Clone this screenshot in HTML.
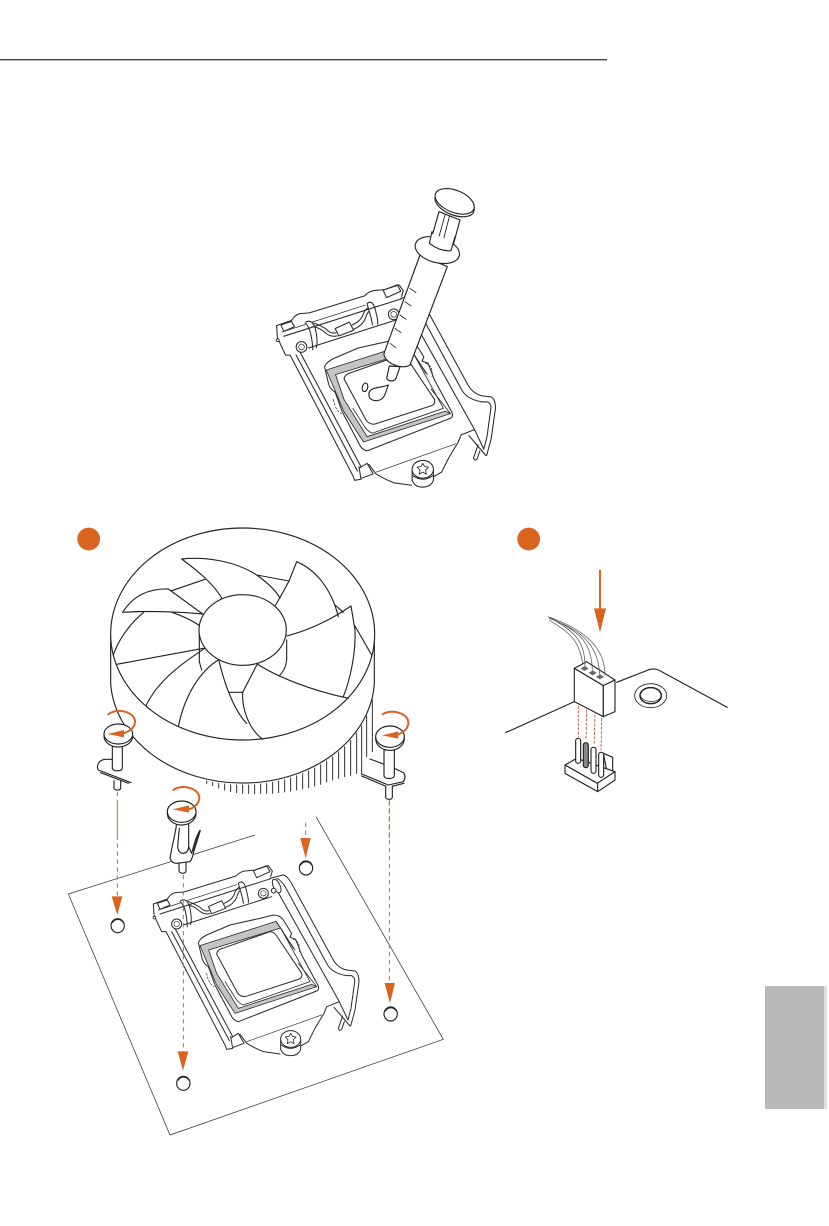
<!DOCTYPE html>
<html><head><meta charset="utf-8"><title>Diagram</title>
<style>html,body{margin:0;padding:0;background:#fff;width:829px;height:1226px;overflow:hidden}svg{display:block}</style>
</head><body>
<svg width="829" height="1226" viewBox="0 0 829 1226" xmlns="http://www.w3.org/2000/svg">
<defs>
<g id="socket" fill="none" stroke="#2a2a2a" stroke-width="3" stroke-linejoin="round" stroke-linecap="round">
 <path fill="#fff" stroke="none" d="M280,312 L322,297 L345,278 L372,276 L528,228 L555,213 L625,197 L637,213 L632,230 L670,225 L700,260 L820,480 L860,510 L885,513 L897,545 L885,630 L872,680 L845,690 L835,685 L838,620 L800,620 L765,685 L722,745 L690,768 L660,762 L610,755 L552,730 L520,742 L518,745 L500,748 L495,735 L318,395 L305,395 L282,345 Z"/>
 <!-- top bar -->
 <path d="M280,312 L322,297 Q330,283 345,278 L372,276 L528,228 Q540,215 555,213 L585,210 L625,197 L637,213 L632,230"/>
 <path d="M280,312 L282,345 L305,395 L318,395"/>
 <circle cx="283" cy="353" r="4" fill="#fff" stroke-width="2.4"/>
 <path d="M300,342 L632,236 M292,310 L322,300 L330,315 L300,328 Z M580,212 L620,197 L630,215 L590,233 Z M370,375 L635,290"/>
 <path stroke-width="2" d="M380,302 L530,254 M295,330 L360,309"/>
 <!-- rails -->
 <path d="M318,395 L495,735 L500,748 L518,745 L512,710 M335,395 L508,722 M345,385 L518,710"/>
 <path d="M515,712 L535,700 L552,730 L520,742"/>
 <path d="M630,235 L668,225 Q682,225 700,260 L820,480 Q835,505 860,510 L885,513 Q897,520 897,545 L885,630 L872,678"/>
 <path d="M650,235 Q665,240 680,268 L800,490 Q815,520 860,527 L875,527 Q885,532 884,545 L873,625 L864,660"/>
 <path d="M642,255 L838,605 L800,620 L792,640 L765,685 L745,725 L722,738"/>
 <path d="M822,622 L870,678 M838,605 L864,660 M835,685 L848,648 M835,685 Q838,695 845,688 L853,665"/>
 <ellipse cx="650" cy="258" rx="10" ry="22" fill="#fff" transform="rotate(-25 650 258)"/>
 <circle cx="641" cy="272" r="7" fill="#fff"/>
 <!-- hood -->
 <path d="M540,703 L560,730 Q585,745 610,755 L660,762"/>
 <path stroke-width="2" d="M560,725 L785,645"/>
 <!-- screws -->
 <circle cx="350" cy="372" r="15" fill="#fff"/><circle cx="350" cy="372" r="8" stroke-width="2"/>
 <circle cx="610" cy="280" r="15" fill="#fff"/><circle cx="610" cy="280" r="8" stroke-width="2"/>
 <!-- bail loops -->
 <path d="M362,302 C372,296 385,300 390,325 C394,345 396,360 392,374 M360,305 C372,312 380,340 382,380"/>
 <path d="M535,250 C545,240 555,248 560,275 C564,290 566,300 565,308 M535,250 C540,270 548,290 550,310"/>
 <path d="M385,305 Q405,312 420,322 Q432,336 447,332 M388,316 Q405,320 417,332 Q432,345 450,341"/>
 <path fill="#fff" d="M445,320 L485,302 L497,325 L455,341 Z"/>
 <path d="M493,310 Q515,300 522,285 Q527,268 537,262 M497,322 Q522,312 530,292 Q534,278 540,272"/>
 <!-- window -->
 <path fill="#fff" d="M415,428 Q420,415 440,405 L510,375 L600,355 L640,345 Q660,345 670,360 L695,400 L690,412 L707,418 L725,465 L775,558 Q778,570 770,573 L535,665 Q522,662 515,650 L465,555 L445,500 Q428,490 425,470 Z"/>
 <path fill="#c4c4c4" stroke-width="2.4" d="M420,437 L648,364 L662,384 L446,450 L470,520 L535,625 L755,553 L770,560 L525,640 L470,555 Z"/>
 <path stroke-width="2.4" d="M648,364 L705,450 M662,384 L700,445 M715,490 L770,560"/>
 <path stroke-width="2.4" d="M662,384 L750,545 L550,615 Q540,612 530,600 L495,545"/>
 <path fill="#fff" d="M470,462 Q472,450 485,446 L630,395 Q640,395 648,405 L725,520 Q728,532 718,537 L555,590 Q540,590 532,578 Z"/>
 <path stroke-width="2" d="M700,418 Q722,425 718,455 M440,520 Q445,550 462,560" stroke-dasharray="6,5"/>
 <!-- main screw -->
 <path fill="#fff" d="M662,720 V748 Q670,768 692,767 Q715,767 722,748 V720 Z"/>
 <ellipse cx="692" cy="717" rx="30" ry="25" fill="#fff"/>
 <path d="M664,735 Q692,755 720,735"/>
 <path stroke-width="2.4" d="M692,700 L697,709 L708,711 L700,719 L702,731 L692,725 L682,731 L684,719 L676,711 L687,709 Z"/>
</g>
</defs>

<rect x="0" y="59" width="607" height="1.4" fill="#444"/>
<rect x="765" y="986" width="59" height="123" fill="#b9b9b9"/>
<rect x="824" y="986" width="3" height="123" fill="#ddd"/>

<circle cx="88.7" cy="539" r="11.4" fill="#d9631f"/>
<circle cx="528.7" cy="539" r="11.4" fill="#d9631f"/>

<!-- Top socket + syringe -->
<use href="#socket" transform="translate(177.33,215) scale(.3547)"/>
<g transform="translate(260,180) scale(.33333)" fill="none" stroke="#222" stroke-width="3.4" stroke-linejoin="round" stroke-linecap="round">
 <path fill="#fff" d="M388,558 L380,595 C386,605 402,606 408,595 L420,560 Z"/>
 <path fill="#fff" d="M480,225 L372,520 C370,545 420,572 450,555 L562,260 Z"/>
 <path d="M450,325 L468,338 M435,365 L453,378 M420,405 L438,418 M405,445 L423,458 M390,490 L408,503" stroke-width="2.6"/>
 <path fill="#fff" d="M537,95 L510,190 L575,212 L600,120 Z"/>
 <path d="M555,105 L530,195 M568,110 L545,200" stroke-width="2.6"/>
 <ellipse cx="532" cy="210" rx="68" ry="38" fill="#fff" transform="rotate(15 532 210)"/>
 <path fill="#fff" stroke="none" d="M512,160 L580,185 L572,212 L505,190 Z"/>
 <path d="M516,155 L508,190 Q540,215 573,212 L585,170"/>
 <ellipse cx="584" cy="72" rx="62" ry="33" fill="#fff" transform="rotate(22 584 72)"/>
 <ellipse cx="584" cy="64" rx="62" ry="33" fill="#fff" transform="rotate(22 584 64)"/>
 <ellipse cx="315" cy="622" rx="8" ry="13" fill="#fff" transform="rotate(15 315 622)"/>
 <path fill="#fff" d="M327,640 C330,620 360,625 385,615 C375,640 375,660 350,662 C335,662 325,655 327,640 Z"/>
</g>

<!-- PCB outline -->
<g transform="translate(60,800) scale(.33333)" fill="none" stroke="#333" stroke-width="2.2">
 <path d="M585,105 L25,282 L330,1005 L1150,718 L768,50"/>
</g>

<!-- Bottom socket -->
<use href="#socket" transform="translate(60,800) scale(.33333)"/>

<!-- Fan -->
<g transform="translate(60,520) scale(.33333)" fill="none" stroke="#222" stroke-width="3.4" stroke-linejoin="round" stroke-linecap="round">
 <path stroke-width="2.8" d="M440,783V791M458,787V797M476,790V804M494,792V810M512,794V815M530,795V818M548,795V820M566,795V820M584,794V821M602,792V820M620,790V820M638,787V820M656,783V818M674,779V816M692,773V813M710,767V810M728,761V807M746,753V803M764,744V798M782,734V793M800,723V786M818,710V780M836,696V775M854,680V770M872,661V766M890,639V760M905,617V760M920,588V710M937,540V695"/>
 <path fill="#fff" d="M152,340 V490 A396,315 0 0 0 943,490 V320 Z"/>
 <ellipse cx="548" cy="342" rx="396" ry="318" fill="#fff"/>
 <path d="M365,117 C430,110 520,120 590,165 C625,190 650,215 660,235 M365,117 C410,150 460,190 487,237 M590,165 L687,183"/>
 <path d="M710,125 L687,183 Q665,225 645,258 M710,125 C770,150 815,210 835,290 M825,255 L850,277"/>
 <path d="M873,258 C820,295 750,330 680,348 M873,258 L885,330 C888,400 870,480 850,530 M885,318 L935,405"/>
 <path d="M592,432 C650,470 750,510 865,535 M592,432 L548,517 C545,570 570,630 607,657 M680,360 V420 C678,440 670,455 660,465"/>
 <path d="M477,422 C490,480 520,570 560,610 M508,517 L548,517"/>
 <path d="M475,420 C425,450 375,520 355,620 M435,385 C350,440 290,490 258,557 M430,385 L170,433"/>
 <path d="M188,277 C220,225 270,205 325,207 L428,282 M188,277 C260,272 360,275 428,282 M250,278 C210,310 175,360 160,405 M335,212 L435,178 M330,275 C360,285 395,300 420,318 M418,335 V425 L425,450"/>
 <ellipse cx="548" cy="330" rx="131" ry="106" fill="#fff"/>
 <!-- left pin -->
 <path d="M157,718 H135 C115,720 108,740 115,750 L213,788 M122,758 L205,790"/>
 <path fill="#fff" d="M162,782 V805 C165,812 180,812 182,805 V782"/>
 <path fill="#fff" d="M157,670 V745 C160,755 185,755 187,745 V670 Z"/>
 <ellipse cx="175" cy="648" rx="43" ry="33" fill="#fff"/>
 <ellipse cx="175" cy="642" rx="43" ry="30" fill="#fff"/>
 <!-- right pin -->
 <path d="M930,717 L970,732 M1003,745 L1030,758 Q1040,770 1030,785 L985,795 L905,762 M1032,790 L985,802 L905,768"/>
 <path fill="#fff" d="M977,798 V832 C980,840 995,840 997,832 V798"/>
 <path fill="#fff" d="M972,690 V768 C975,778 1000,778 1003,768 V690 Z"/>
 <ellipse cx="990" cy="656" rx="43" ry="35" fill="#fff"/>
 <ellipse cx="990" cy="650" rx="43" ry="32" fill="#fff"/>
</g>

<!-- Middle pin (z3) -->
<g transform="translate(60,800) scale(.33333)" fill="none" stroke="#222" stroke-width="3.4" stroke-linejoin="round" stroke-linecap="round">
 <path fill="#fff" d="M357,188 V213 C360,222 376,222 378,213 V188"/>
 <path fill="#fff" d="M350,70 C345,110 335,140 330,175 Q335,190 350,190 L390,185 Q398,175 402,150 L417,95 L406,120 L395,160 L386,140 L386,70 Z"/>
 <path d="M358,85 L353,140 Q355,160 370,160 Q385,158 386,140"/>
 <path d="M402,150 L420,92" stroke-width="5"/>
 <ellipse cx="365" cy="41" rx="43" ry="34" fill="#fff"/>
 <ellipse cx="365" cy="35" rx="43" ry="32" fill="#fff"/>
 <!-- holes -->
 <g fill="#fff">
 <ellipse cx="173" cy="377" rx="20" ry="21"/><path d="M157,368 C165,355 182,355 190,368"/>
 <ellipse cx="738" cy="204" rx="20" ry="21"/><path d="M722,195 C730,182 747,182 755,195"/>
 <ellipse cx="992" cy="642" rx="20" ry="21"/><path d="M976,633 C984,620 1001,620 1009,633"/>
 <ellipse cx="370" cy="850" rx="20" ry="21"/><path d="M354,841 C362,828 379,828 387,841"/>
 </g>
</g>

<!-- Orange dashes and arrows -->
<g transform="translate(60,800) scale(.33333)" fill="none" stroke="#d9631f" stroke-width="3" stroke-dasharray="13,11">
 <path d="M172,10 V290 M988,0 V550 M370,225 V755 M737,68 V115"/>
</g>
<g transform="translate(60,800) scale(.33333)" fill="#d9631f">
 <path d="M155,289 H187 L172,345 Z M974,549 H1005 L990,610 Z M353,754 H385 L369,812 Z M721,114 H752 L737,175 Z"/>
</g>
<g transform="translate(60,520) scale(.33333)" fill="none" stroke="#d9631f" stroke-width="3" stroke-dasharray="13,11">
 <path d="M172,815 V960 M988,845 V960"/>
</g>
<g transform="translate(60,520) scale(.33333)">
 <g fill="none" stroke="#d9631f" stroke-width="6" stroke-linecap="round">
  <path d="M145,583 C170,562 225,575 225,605 C225,625 205,635 190,640"/>
  <path d="M968,583 C995,565 1047,580 1045,610 C1043,630 1025,640 1010,645"/>
  <path d="M340,810 C365,790 420,805 418,835 C416,855 398,865 385,868"/>
 </g>
 <path fill="#d9631f" d="M143,642 L192,630 V652 Z M966,646 L1015,634 V656 Z M338,868 L387,856 V878 Z"/>
</g>

<!-- Connector (z4) -->
<g transform="translate(490,520) scale(.33333)" fill="none" stroke="#222" stroke-width="3.4" stroke-linejoin="round" stroke-linecap="round">
 <path d="M47,638 L253,545 M380,487 L480,448 C495,445 505,448 520,458 L712,562"/>
 <ellipse cx="482" cy="527" rx="48" ry="36" stroke-width="2.5"/>
 <ellipse cx="482" cy="527" rx="32" ry="24" stroke-width="4.5"/>
 <path d="M452,530 C465,548 500,550 512,532" stroke-width="2"/>
 <!-- header -->
 <path fill="#fff" d="M340,700 L368,712 V755 L350,750 Z"/>
 <path fill="#fff" d="M225,735 L260,715 L375,755 L322,790 Z"/>
 <path fill="#fff" d="M225,735 V760 L323,815 L375,780 V755 L322,790 Z"/>
 <path d="M323,790 V815"/>
 <rect x="257" y="655" width="15" height="75" rx="7" fill="#fff"/>
 <rect x="280" y="668" width="15" height="75" rx="7" fill="#888"/>
 <rect x="303" y="682" width="15" height="78" rx="7" fill="#fff"/>
 <rect x="326" y="697" width="15" height="75" rx="7" fill="#fff"/>
 <!-- box -->
 <path fill="#fff" d="M253,445 L290,425 L375,480 L340,497 Z"/>
 <path fill="#fff" d="M253,445 V545 L340,590 V497 Z"/>
 <path fill="#fff" d="M340,497 L375,480 V575 L340,590 Z"/>
 <path fill="#666" stroke="none" d="M272,445 L285,438 L296,446 L283,453 Z M296,458 L309,451 L320,459 L307,466 Z M318,470 L331,463 L342,471 L329,478 Z"/>
 <!-- wires -->
 <path stroke-width="2.2" stroke="#555" d="M175,290 C240,330 285,350 285,438 M175,290 C250,330 305,350 307,450 M178,295 C260,325 325,365 329,463 M180,292 C270,325 345,375 345,465 M178,300 C230,335 265,350 278,430"/>
 <path stroke="#c0462a" stroke-width="2.5" stroke-dasharray="7,6" d="M265,558 V650 M290,570 L288,660 M315,585 L312,675 M335,595 L333,690"/>
</g>
<g transform="translate(490,520) scale(.33333)">
 <rect x="327" y="150" width="6" height="120" fill="#d9631f"/>
 <path fill="#d9631f" d="M312,265 H348 L330,337 Z"/>
</g>
</svg>
</body></html>
